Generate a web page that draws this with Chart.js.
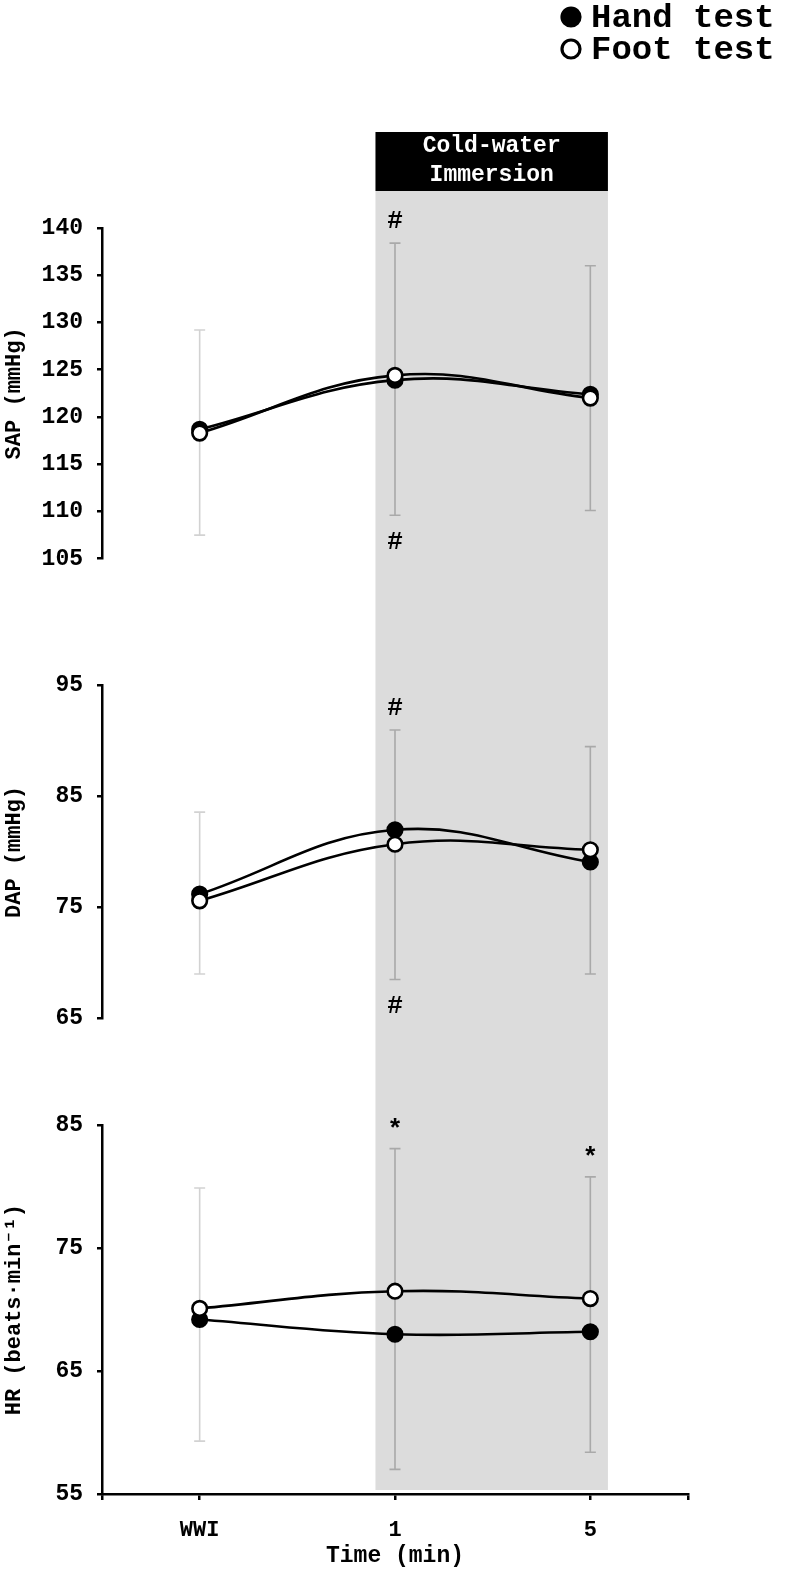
<!DOCTYPE html>
<html><head><meta charset="utf-8">
<script src="https://cdn.jsdelivr.net/npm/chart.js@4.4.1/dist/chart.umd.min.js"></script>
<style>html,body{margin:0;padding:0;background:#fff;}#wrap{position:relative;width:786px;height:1592px;}canvas{display:block;}</style>
</head><body><div id="wrap"><canvas id="c" width="786" height="1592"></canvas></div>
<script>
// ---------- data ----------
const categories = ['WWI', '1', '5'];
const seriesNames = ['Hand test', 'Foot test'];

const sapHand = [118.7, 123.9, 122.4];
const sapFoot = [118.3, 124.4, 122.0];
const sapErrHigh = [129.2, 138.4, 136.0];
const sapErrLow = [107.5, 109.6, 110.1];
const sapMarkAbove = ['', '#', ''];
const sapMarkBelow = ['', '#', ''];
const sapTicks = [105, 110, 115, 120, 125, 130, 135, 140];

const dapHand = [76.2, 82.0, 79.1];
const dapFoot = [75.6, 80.7, 80.2];
const dapErrHigh = [83.6, 91.0, 89.5];
const dapErrLow = [69.0, 68.5, 69.0];
const dapMarkAbove = ['', '#', ''];
const dapMarkBelow = ['', '#', ''];
const dapTicks = [65, 75, 85, 95];

const hrHand = [69.2, 68.0, 68.2];
const hrFoot = [70.1, 71.5, 70.9];
const hrErrHigh = [79.9, 83.1, 80.8];
const hrErrLow = [59.3, 57.0, 58.4];
const hrMarkAbove = ['', '*', '*'];
const hrMarkBelow = ['', '', ''];
const hrTicks = [55, 65, 75, 85];

const axisTitles = ['SAP (mmHg)', 'DAP (mmHg)', 'HR (beats\u00B7min\u207B\u00B9)'];
const xTitle = 'Time (min)';
const bandRange = [0.9, 2.09];          // immersion period on the x scale
const bandLabel = ['Cold-water', 'Immersion'];

// ---------- setup ----------
const FONT = "'Liberation Mono', 'DejaVu Sans Mono', monospace";
Chart.defaults.font.family = FONT;
Chart.defaults.font.weight = 'bold';
Chart.defaults.color = '#000';

const pts = arr => arr.map((v, i) => ({x: i, y: v}));

const panels = [
  {id: 'ySAP', hand: sapHand, foot: sapFoot, hi: sapErrHigh, lo: sapErrLow, above: sapMarkAbove, below: sapMarkBelow},
  {id: 'yDAP', hand: dapHand, foot: dapFoot, hi: dapErrHigh, lo: dapErrLow, above: dapMarkAbove, below: dapMarkBelow},
  {id: 'yHR', hand: hrHand, foot: hrFoot, hi: hrErrHigh, lo: hrErrLow, above: hrMarkAbove, below: hrMarkBelow}
];

const datasets = [];
panels.forEach(p => {
  datasets.push({label: seriesNames[1], data: pts(p.foot), yAxisID: p.id, xAxisID: 'x',
    borderColor: '#000', borderWidth: 2.6, backgroundColor: '#fff',
    pointBackgroundColor: '#fff', pointBorderColor: '#000', pointBorderWidth: 2.6,
    pointRadius: 7.3, tension: 0.4, order: 1});
  datasets.push({label: seriesNames[0], data: pts(p.hand), yAxisID: p.id, xAxisID: 'x',
    borderColor: '#000', borderWidth: 2.6, backgroundColor: '#000',
    pointBackgroundColor: '#000', pointBorderColor: '#000', pointBorderWidth: 2.6,
    pointRadius: 7.3, tension: 0.4, order: 2});
});

const AXIS_W = 101;
function yAxis(min, max, ticks, title, weight, stackWeight) {
  return {
    type: 'linear', position: 'left', stack: 'v', stackWeight: stackWeight, weight: weight,
    min: min, max: max,
    afterBuildTicks: s => { s.ticks = ticks.map(v => ({value: v})); },
    ticks: {autoSkip: false, font: {size: 23, weight: 'bold'}, padding: 14, color: '#000'},
    grid: {display: true, drawOnChartArea: false, drawTicks: true, tickLength: 5, color: '#000', lineWidth: 2.5},
    border: {display: true, color: '#000', width: 2.5},
    title: {display: true, text: title, font: {size: 22, weight: 'bold'}, color: '#000', padding: {top: 0, bottom: 0}},
    afterFit: s => { s.width = AXIS_W; }
  };
}
function spacer(weight, stackWeight) {
  return {
    type: 'linear', position: 'left', stack: 'v', stackWeight: stackWeight, weight: weight,
    min: 0, max: 1, display: true,
    grid: {display: false}, border: {display: false}, ticks: {display: false},
    afterFit: s => { s.width = AXIS_W; }
  };
}

const xTickValues = [-0.5, 0, 1, 2, 2.5];

const decor = {
  id: 'decor',
  beforeDatasetsDraw(chart) {
    const {ctx, chartArea, scales} = chart;
    const x = scales.x;
    const xl = x.getPixelForValue(bandRange[0]);
    const xr = x.getPixelForValue(bandRange[1]);
    ctx.save();
    ctx.fillStyle = '#dcdcdc';
    ctx.fillRect(xl, chartArea.top - 37, xr - xl, chartArea.bottom - 4 - (chartArea.top - 37));
    // error bars
    panels.forEach(p => {
      const ys = scales[p.id];
      p.hi.forEach((h, i) => {
        const xp = x.getPixelForValue(i);
        const yh = ys.getPixelForValue(h);
        const yl = ys.getPixelForValue(p.lo[i]);
        const inBand = i >= bandRange[0] && i <= bandRange[1];
        ctx.strokeStyle = inBand ? '#a9a9a9' : '#d2d2d2';
        ctx.lineWidth = 1.6;
        ctx.beginPath();
        ctx.moveTo(xp, yh); ctx.lineTo(xp, yl);
        ctx.moveTo(xp - 5.5, yh); ctx.lineTo(xp + 5.5, yh);
        ctx.moveTo(xp - 5.5, yl); ctx.lineTo(xp + 5.5, yl);
        ctx.stroke();
        ctx.fillStyle = '#000';
        ctx.font = 'bold 26px ' + FONT;
        ctx.textAlign = 'center';
        ctx.textBaseline = 'middle';
        if (p.above[i]) ctx.fillText(p.above[i], xp, yh - (p.above[i] === '*' ? 18 : 22));
        if (p.below[i]) ctx.fillText(p.below[i], xp, yl + 27);
      });
    });
    ctx.restore();
  },
  afterDraw(chart) {
    const {ctx, chartArea, scales} = chart;
    const x = scales.x;
    const xl = x.getPixelForValue(bandRange[0]);
    const xr = x.getPixelForValue(bandRange[1]);
    ctx.save();
    ctx.fillStyle = '#000';
    ctx.fillRect(xl, chartArea.top - 96, xr - xl, 59);
    ctx.fillStyle = '#fff';
    ctx.font = 'bold 23px ' + FONT;
    ctx.textAlign = 'center';
    ctx.textBaseline = 'middle';
    ctx.fillText(bandLabel[0], (xl + xr) / 2, chartArea.top - 82);
    ctx.fillText(bandLabel[1], (xl + xr) / 2, chartArea.top - 53);
    // legend
    const items = [datasets[1], datasets[0]];
    items.forEach((d, k) => {
      const cy = 17 + k * 32;
      ctx.beginPath();
      ctx.arc(571, cy, 9, 0, Math.PI * 2);
      ctx.fillStyle = d.pointBackgroundColor;
      ctx.fill();
      ctx.lineWidth = 3.2;
      ctx.strokeStyle = '#000';
      ctx.stroke();
      ctx.fillStyle = '#000';
      ctx.font = 'bold 34px ' + FONT;
      ctx.textAlign = 'left';
      ctx.textBaseline = 'middle';
      ctx.fillText(d.label, 591, cy + 1);
    });
    ctx.restore();
  }
};

new Chart(document.getElementById('c'), {
  type: 'line',
  data: {datasets: datasets},
  options: {
    responsive: false, animation: false, devicePixelRatio: 1,
    layout: {padding: {top: 228, left: 1, right: 98, bottom: 0}},
    plugins: {legend: {display: false}, tooltip: {enabled: false}},
    scales: {
      x: {
        type: 'linear', position: 'bottom', min: -0.5, max: 2.5,
        afterBuildTicks: s => { s.ticks = xTickValues.map(v => ({value: v})); },
        ticks: {autoSkip: false, maxRotation: 0, font: {size: 22, weight: 'bold'}, padding: 17, color: '#000',
          callback: v => (Number.isInteger(v) ? categories[v] : '')},
        grid: {display: true, drawOnChartArea: false, tickLength: 6, color: '#000', lineWidth: 2.5},
        border: {display: true, color: '#000', width: 2.5},
        title: {display: true, text: xTitle, font: {size: 23, weight: 'bold'}, color: '#000', padding: {top: 0, bottom: 22}},
        afterFit: s => { s.height = 98; }
      },
      ySAP: yAxis(105, 140, sapTicks, axisTitles[0], 5, 331),
      gap1: spacer(4, 127),
      yDAP: yAxis(65, 95, dapTicks, axisTitles[1], 3, 333),
      gap2: spacer(2, 107),
      yHR: yAxis(55, 85, hrTicks, axisTitles[2], 1, 369)
    }
  },
  plugins: [decor]
});
</script></body></html>
